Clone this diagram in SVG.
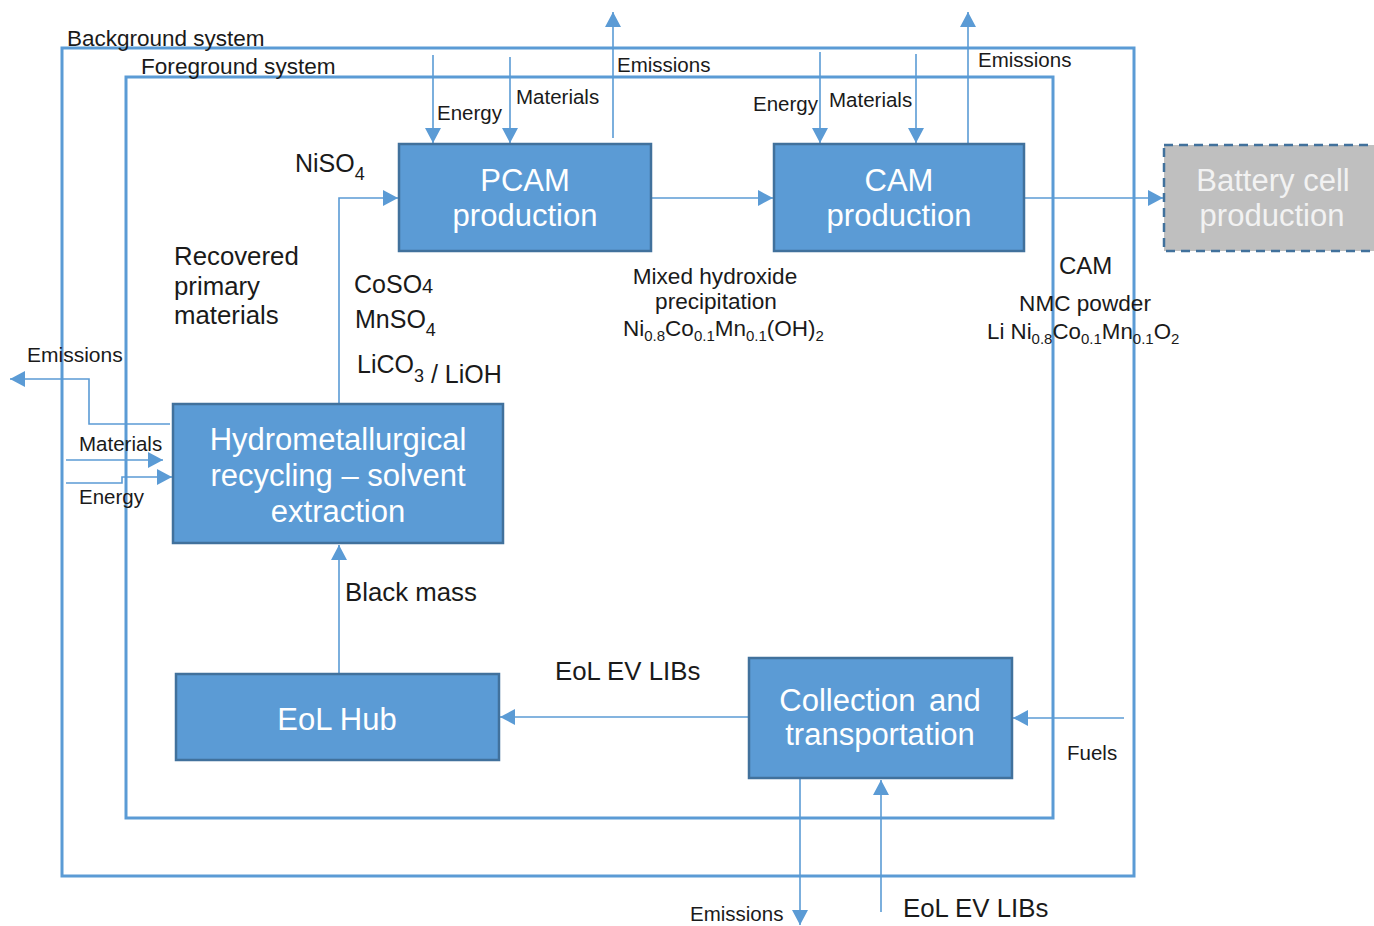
<svg xmlns="http://www.w3.org/2000/svg" width="1374" height="926" viewBox="0 0 1374 926">
<style>
text{font-family:"Liberation Sans",Arial,sans-serif;fill:#1a1a1a}
.box{fill:#5b9bd5;stroke:#41719c;stroke-width:2.5}
.bt{fill:#ffffff;font-size:31px;text-anchor:middle}
.frame{fill:none;stroke:#5b9bd5;stroke-width:3}
.ln{fill:none;stroke:#5b9bd5;stroke-width:1.6}
.s{font-size:20.5px}
.m{font-size:25px}
.l{font-size:25.8px}
.f{font-size:22.6px}
</style>
<defs>
<marker id="ah" markerUnits="userSpaceOnUse" markerWidth="16" markerHeight="16" refX="15" refY="8" orient="auto">
<path d="M0,0 L15,8 L0,16 z" fill="#5b9bd5"/>
</marker>
</defs>
<rect x="0" y="0" width="1374" height="926" fill="#ffffff"/>
<g id="frames">
<rect class="frame" x="62" y="48" width="1072" height="828"/>
<rect class="frame" x="126" y="77" width="927" height="741"/>
<text x="67" y="46" style="font-size:22.5px">Background system</text>
<text x="141" y="74" style="font-size:22.6px">Foreground system</text>
</g>
<g id="connectors">
<line class="ln" x1="433" y1="55" x2="433" y2="143" marker-end="url(#ah)"/>
<line class="ln" x1="510" y1="57" x2="510" y2="143" marker-end="url(#ah)"/>
<line class="ln" x1="613" y1="138" x2="613" y2="12" marker-end="url(#ah)"/>
<line class="ln" x1="820" y1="52" x2="820" y2="143" marker-end="url(#ah)"/>
<line class="ln" x1="916" y1="54" x2="916" y2="143" marker-end="url(#ah)"/>
<line class="ln" x1="968" y1="143" x2="968" y2="12" marker-end="url(#ah)"/>
<line class="ln" x1="651" y1="198" x2="773" y2="198" marker-end="url(#ah)"/>
<line class="ln" x1="1024" y1="198" x2="1163" y2="198" marker-end="url(#ah)"/>
<polyline class="ln" points="339,404 339,198 398,198" marker-end="url(#ah)"/>
<polyline class="ln" points="170,424 89,424 89,379 10,379" marker-end="url(#ah)"/>
<line class="ln" x1="66" y1="460" x2="163" y2="460" marker-end="url(#ah)"/>
<polyline class="ln" points="66,483 122,483 122,477 172,477" marker-end="url(#ah)"/>
<line class="ln" x1="339" y1="674" x2="339" y2="545" marker-end="url(#ah)"/>
<line class="ln" x1="749" y1="717" x2="500" y2="717" marker-end="url(#ah)"/>
<line class="ln" x1="1124" y1="718" x2="1013" y2="718" marker-end="url(#ah)"/>
<line class="ln" x1="800" y1="778" x2="800" y2="925" marker-end="url(#ah)"/>
<line class="ln" x1="881" y1="912" x2="881" y2="780" marker-end="url(#ah)"/>
</g>
<g id="pcam">
<rect class="box" x="399" y="144" width="252" height="107"/>
<text class="bt" x="525" y="191">PCAM</text>
<text class="bt" x="525" y="226">production</text>
</g>
<g id="cam">
<rect class="box" x="774" y="144" width="250" height="107"/>
<text class="bt" x="899" y="191">CAM</text>
<text class="bt" x="899" y="226">production</text>
</g>
<g id="battery">
<rect x="1164" y="145" width="215" height="106" fill="#bfbfbf" stroke="#41719c" stroke-width="2.5" stroke-dasharray="9,6"/>
<text class="bt" x="1273" y="191" style="fill:#f2f2f2">Battery cell</text>
<text class="bt" x="1272" y="226" style="fill:#f2f2f2">production</text>
</g>
<g id="hydro">
<rect class="box" x="173" y="404" width="330" height="139"/>
<text class="bt" x="338" y="450">Hydrometallurgical</text>
<text class="bt" x="338" y="486">recycling – solvent</text>
<text class="bt" x="338" y="522">extraction</text>
</g>
<g id="eolhub">
<rect class="box" x="176" y="674" width="323" height="86"/>
<text class="bt" x="337" y="730">EoL Hub</text>
</g>
<g id="collection">
<rect class="box" x="749" y="658" width="263" height="120"/>
<text class="bt" x="880" y="711" word-spacing="5">Collection and</text>
<text class="bt" x="880" y="745">transportation</text>
</g>
<g id="labels">
<text class="s" x="617" y="72">Emissions</text>
<text class="s" x="437" y="120">Energy</text>
<text class="s" x="516" y="104">Materials</text>
<text class="s" x="753" y="111">Energy</text>
<text class="s" x="829" y="107">Materials</text>
<text class="s" x="978" y="67">Emissions</text>
<text class="m" x="295" y="172">NiSO<tspan font-size="18" dy="8">4</tspan></text>
<text class="l" x="174" y="265">Recovered</text>
<text class="l" x="174" y="295">primary</text>
<text class="l" x="174" y="324">materials</text>
<text class="m" x="354" y="293">CoSO<tspan font-size="20">4</tspan></text>
<text class="m" x="355" y="328">MnSO<tspan font-size="18" dy="8">4</tspan></text>
<text class="m" x="357" y="373">LiCO<tspan font-size="18" dy="9">3</tspan><tspan dy="1"> / LiOH</tspan></text>
<text class="f" x="715" y="284" text-anchor="middle">Mixed hydroxide</text>
<text class="f" x="716" y="309" text-anchor="middle">precipitation</text>
<text font-size="22.5" x="623" y="336">Ni<tspan font-size="15" dy="5">0.8</tspan><tspan dy="-5">Co</tspan><tspan font-size="15" dy="5">0.1</tspan><tspan dy="-5">Mn</tspan><tspan font-size="15" dy="5">0.1</tspan><tspan dy="-5">(OH)</tspan><tspan font-size="15" dy="5">2</tspan></text>
<text font-size="24" x="1059" y="274">CAM</text>
<text class="f" x="1085" y="311" text-anchor="middle">NMC powder</text>
<text font-size="22.3" x="987" y="339">Li Ni<tspan font-size="15" dy="5">0.8</tspan><tspan dy="-5">Co</tspan><tspan font-size="15" dy="5">0.1</tspan><tspan dy="-5">Mn</tspan><tspan font-size="15" dy="5">0.1</tspan><tspan dy="-5">O</tspan><tspan font-size="15" dy="5">2</tspan></text>
<text x="27" y="362" style="font-size:21px">Emissions</text>
<text class="s" x="79" y="451">Materials</text>
<text class="s" x="79" y="504">Energy</text>
<text class="l" x="345" y="601">Black mass</text>
<text class="l" x="555" y="680">EoL EV LIBs</text>
<text class="s" x="1067" y="760">Fuels</text>
<text class="s" x="690" y="921">Emissions</text>
<text class="l" x="903" y="917">EoL EV LIBs</text>
</g>
</svg>
